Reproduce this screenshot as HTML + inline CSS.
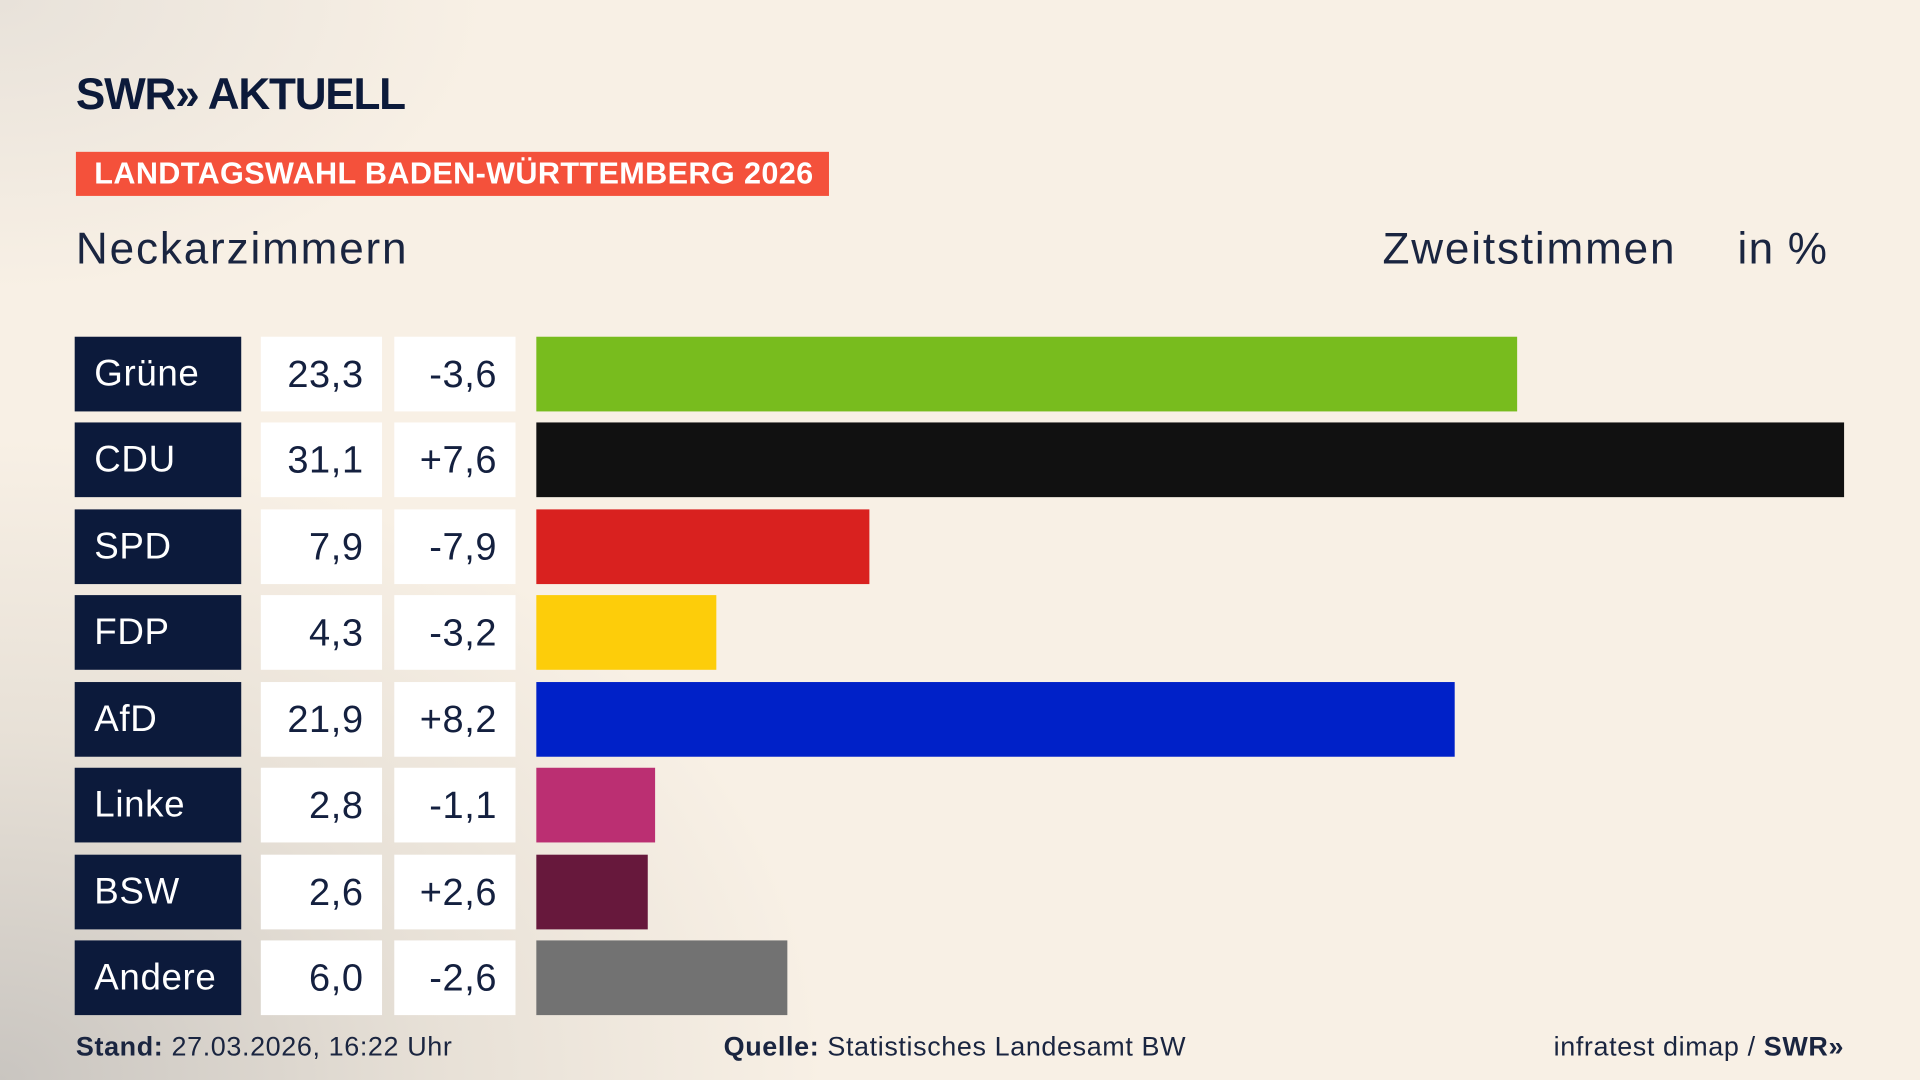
<!DOCTYPE html>
<html><head><meta charset="utf-8"><style>
html,body{margin:0;padding:0;width:1920px;height:1080px;overflow:hidden}
body{background:#f7efe4}
#w{position:absolute;left:0;top:0;width:1568px;height:882px;transform:scale(1.22449);transform-origin:0 0;
background:radial-gradient(ellipse 900px 700px at 0% 100%,#c9c5c0 0%,rgba(220,214,205,0.6) 40%,rgba(247,239,228,0) 75%),
radial-gradient(ellipse 500px 300px at 0% 0%,#e8e2da 0%,rgba(247,239,228,0) 80%),#f8f0e5;
font-family:"Liberation Sans",sans-serif;color:#0d1b3e}
.a{position:absolute}
.lab{position:absolute;left:61px;width:136px;height:61px;background:#0c1a3b;color:#fff;font-size:30px;line-height:61px;box-sizing:border-box;padding-left:16px;letter-spacing:0.5px}
.v{position:absolute;height:61px;background:#fff;font-size:31px;line-height:61px;text-align:right;box-sizing:border-box;padding-right:15px;color:#14203f;letter-spacing:0.5px}
.b{position:absolute;left:438px;height:61px}
</style></head><body><div id="w">
<div class="a" style="left:62px;top:56px;font-size:36px;font-weight:bold;letter-spacing:-1px;color:#0c1a3a">SWR&#187; AKTUELL</div>
<div class="a" style="left:62px;top:124px;width:615px;height:36px;background:#f4513b;color:#fff;font-weight:bold;font-size:25px;line-height:37px;box-sizing:border-box;padding-left:15px;letter-spacing:0.3px">LANDTAGSWAHL BADEN-WÜRTTEMBERG 2026</div>
<div class="a" style="left:62px;top:182px;font-size:36px;color:#1a2540;letter-spacing:1.5px">Neckarzimmern</div>
<div class="a" style="left:1129px;top:182px;font-size:36px;color:#1a2540;letter-spacing:1.5px">Zweitstimmen</div>
<div class="a" style="left:1419px;top:182px;font-size:36px;color:#1a2540;letter-spacing:1px">in %</div>

<div class="lab" style="top:275px">Grüne</div><div class="v" style="left:213px;width:99px;top:275px">23,3</div><div class="v" style="left:322px;width:99px;top:275px">-3,6</div><div class="b" style="top:275px;width:801px;background:#78bc1e"></div>
<div class="lab" style="top:345px">CDU</div><div class="v" style="left:213px;width:99px;top:345px">31,1</div><div class="v" style="left:322px;width:99px;top:345px">+7,6</div><div class="b" style="top:345px;width:1068px;background:#111"></div>
<div class="lab" style="top:416px">SPD</div><div class="v" style="left:213px;width:99px;top:416px">7,9</div><div class="v" style="left:322px;width:99px;top:416px">-7,9</div><div class="b" style="top:416px;width:272px;background:#d9211f"></div>
<div class="lab" style="top:486px">FDP</div><div class="v" style="left:213px;width:99px;top:486px">4,3</div><div class="v" style="left:322px;width:99px;top:486px">-3,2</div><div class="b" style="top:486px;width:147px;background:#fdcd0a"></div>
<div class="lab" style="top:557px">AfD</div><div class="v" style="left:213px;width:99px;top:557px">21,9</div><div class="v" style="left:322px;width:99px;top:557px">+8,2</div><div class="b" style="top:557px;width:750px;background:#0021c8"></div>
<div class="lab" style="top:627px">Linke</div><div class="v" style="left:213px;width:99px;top:627px">2,8</div><div class="v" style="left:322px;width:99px;top:627px">-1,1</div><div class="b" style="top:627px;width:97px;background:#bb2f72"></div>
<div class="lab" style="top:698px">BSW</div><div class="v" style="left:213px;width:99px;top:698px">2,6</div><div class="v" style="left:322px;width:99px;top:698px">+2,6</div><div class="b" style="top:698px;width:91px;background:#67183c"></div>
<div class="lab" style="top:768px">Andere</div><div class="v" style="left:213px;width:99px;top:768px">6,0</div><div class="v" style="left:322px;width:99px;top:768px">-2,6</div><div class="b" style="top:768px;width:205px;background:#727272"></div>

<div class="a" style="left:62px;top:842px;font-size:22px;color:#1a2540;letter-spacing:0.5px"><b>Stand:</b> 27.03.2026, 16:22 Uhr</div>
<div class="a" style="left:591px;top:842px;font-size:22px;color:#1a2540;letter-spacing:0.5px"><b>Quelle:</b> Statistisches Landesamt BW</div>
<div class="a" style="right:62px;top:842px;font-size:22px;color:#1a2540;letter-spacing:0.5px">infratest dimap / <b>SWR&#187;</b></div>
</div></body></html>
